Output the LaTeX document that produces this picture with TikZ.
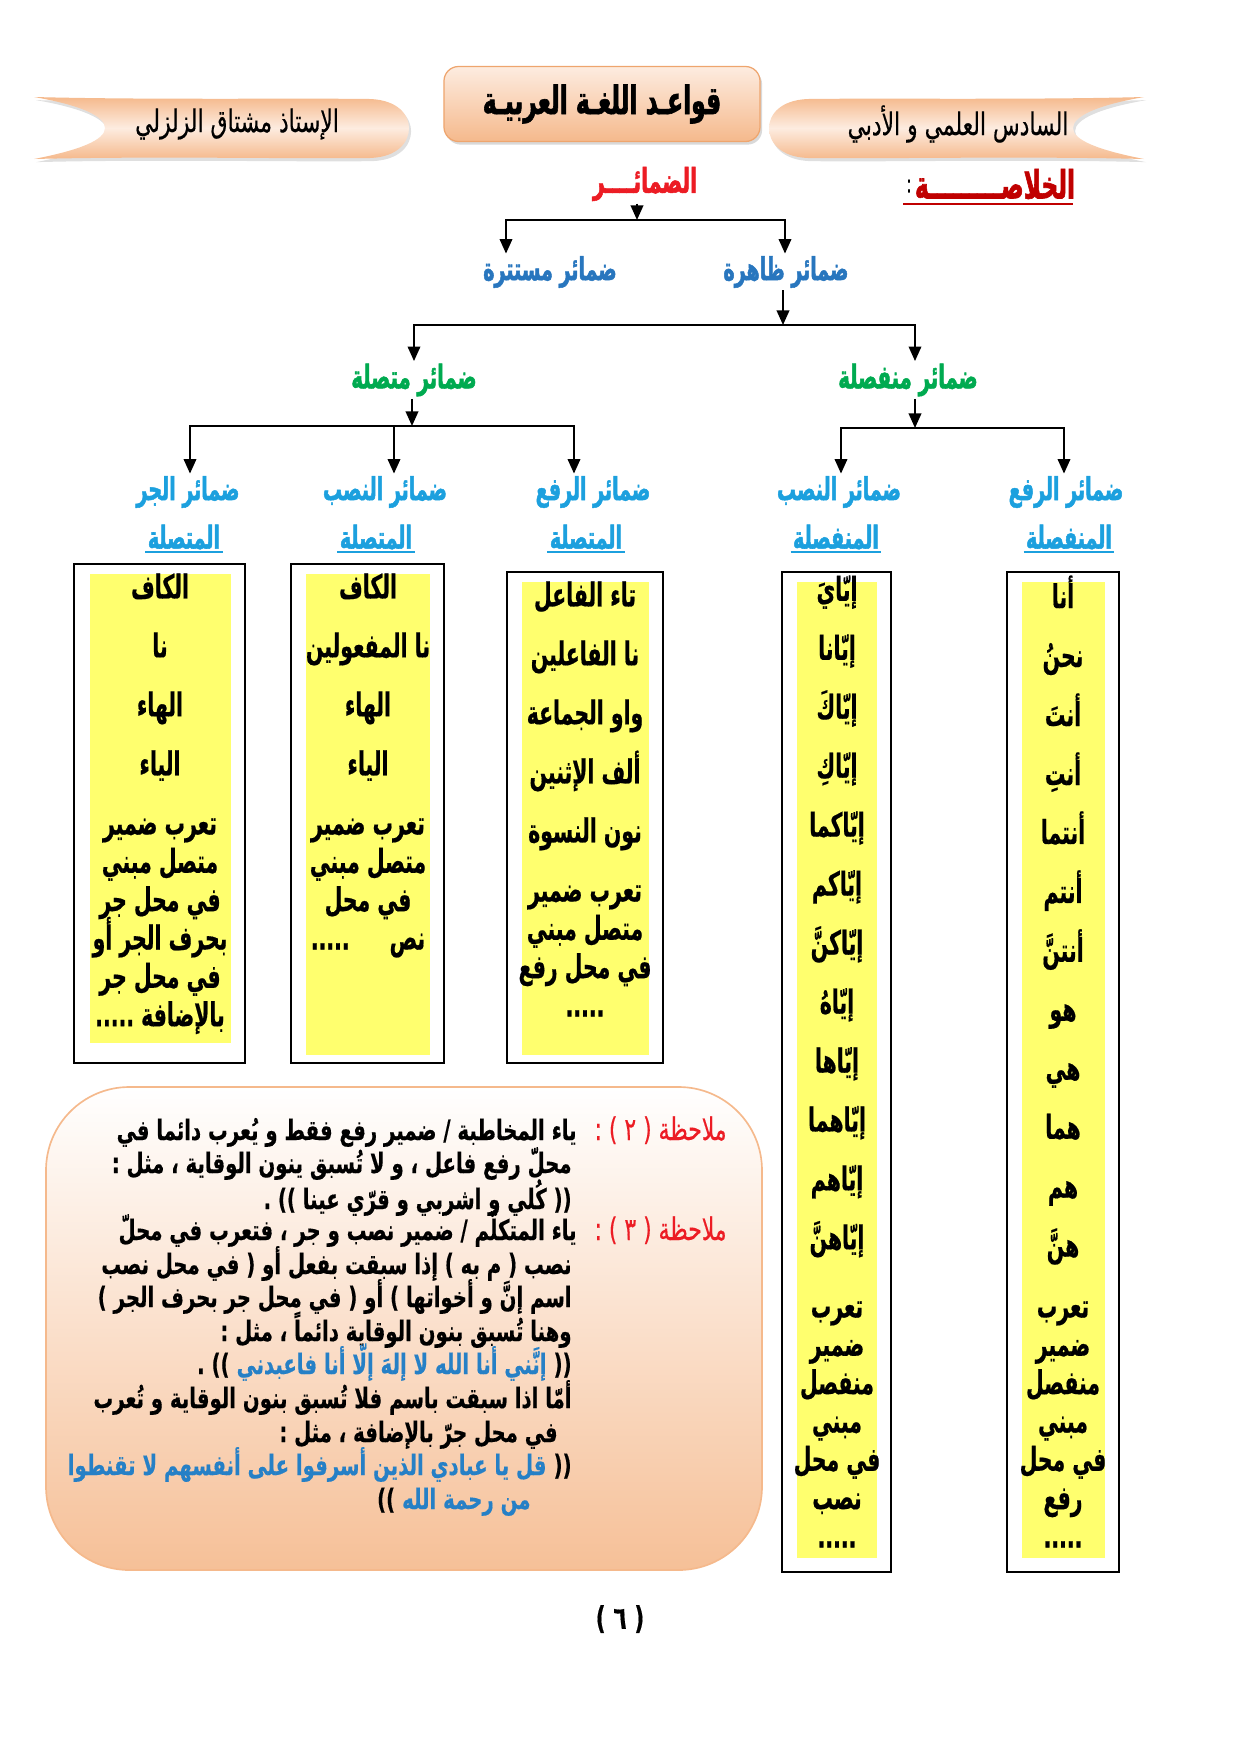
\documentclass[tikz,border=0pt]{standalone}
\usepackage{fontspec}
\usetikzlibrary{arrows.meta,positioning,shadows}
\TeXXeTstate=1
\newfontfamily\arabicfont[Script=Arabic, FakeStretch=0.7, FakeBold=0.4]{DejaVu Sans}
\newfontfamily\colfont[Script=Arabic, FakeStretch=0.62, FakeBold=0.5]{DejaVu Sans}
\newfontfamily\heavyfont[Script=Arabic, FakeStretch=0.6, FakeBold=1.5]{DejaVu Sans}
\definecolor{qpeachd}{RGB}{245,185,140}
\definecolor{qpeachl}{RGB}{253,236,224}
\definecolor{qpeachb}{RGB}{238,165,110}
\definecolor{qred}{RGB}{236,28,36}
\definecolor{qdred}{RGB}{192,0,0}
\definecolor{qblue}{RGB}{40,118,190}
\definecolor{qcyan}{RGB}{28,160,222}
\definecolor{qgreen}{RGB}{0,170,80}
\definecolor{qyellow}{RGB}{255,255,110}
\definecolor{qquote}{RGB}{38,128,198}
\newcommand{\artxt}[1]{\beginR #1\endR}
\newcommand{\tightlines}{\lineskiplimit=-20pt\relax}

\begin{document}
\begin{tikzpicture}[x=0.48pt, y=-0.48pt,
    ban/.style={top color=qpeachd, bottom color=qpeachd, middle color=qpeachl,
                drop shadow={shadow xshift=1pt, shadow yshift=-1.5pt, opacity=0.25}},
    titlebox/.style={rounded corners=7pt, top color=qpeachl, bottom color=qpeachd, draw=qpeachb,
                line width=0.6pt, minimum width=151.7pt, minimum height=36pt,
                drop shadow={shadow xshift=1pt, shadow yshift=-1.5pt, opacity=0.3},
                font=\heavyfont\bfseries\fontsize{18.7}{22}\selectfont},
    banlbl/.style={font=\arabicfont\fontsize{15}{18}\selectfont, inner sep=1pt},
    hred/.style={font=\heavyfont\bfseries\fontsize{16.3}{19}\selectfont, text=qred, inner sep=1pt},
    blbl/.style={font=\heavyfont\bfseries\fontsize{15.2}{18}\selectfont, text=qblue, inner sep=1pt},
    glbl/.style={font=\heavyfont\bfseries\fontsize{15.7}{18}\selectfont, text=qgreen, inner sep=1pt},
    clbl/.style={font=\heavyfont\bfseries\fontsize{15.2}{18}\selectfont, text=qcyan, inner sep=1pt},
    col/.style={font=\colfont\bfseries\fontsize{15.8}{18.4}\selectfont\tightlines,
                align=center, inner sep=0pt, anchor=north},
    note/.style={font=\arabicfont\bfseries\fontsize{13.5}{16}\selectfont, inner sep=0pt,
                anchor=base east},
    notered/.style={note, font=\arabicfont\fontsize{15}{17}\selectfont, text=qred},
    conn/.style={line width=1pt},
    arr/.style={conn, -{Triangle[length=7pt,width=6pt]}},
    frame/.style={draw, line width=1.2pt},
    strip/.style={fill=qyellow},
    uln/.style={qcyan, line width=0.8pt}
]
\useasboundingbox (0,0) rectangle (1240,1754);

% header
\shade[ban] (34,97) .. controls (150,100) and (300,98) .. (370,99)
    .. controls (398,100) and (409,115) .. (409,128)
    .. controls (409,142) and (398,157) .. (370,158)
    .. controls (300,159) and (150,156) .. (34,159)
    .. controls (80,150) and (105,140) .. (105,128)
    .. controls (105,116) and (80,105) .. (34,97) -- cycle;
\shade[ban] (1144,97) .. controls (1028,100) and (878,98) .. (808,99)
    .. controls (780,100) and (769,115) .. (769,128)
    .. controls (769,142) and (780,157) .. (808,158)
    .. controls (878,159) and (1028,156) .. (1144,159)
    .. controls (1098,150) and (1073,140) .. (1073,128)
    .. controls (1073,116) and (1098,105) .. (1144,97) -- cycle;
\node[banlbl] (teacher) at (237,124) {\artxt{الإستاذ مشتاق الزلزلي}};
\node[banlbl] (grade) at (958,124) {\artxt{السادس العلمي و الأدبي}};
\node[titlebox] (title) at (602,104) {\artxt{قواعـد اللغـة العربيـة}};

% summary heading
\node[hred, text=qdred, font=\heavyfont\bfseries\fontsize{18.7}{22}\selectfont] (khulasa) at (995,184) {\artxt{الخلاصـــــــــة}};
\node[font=\arabicfont\fontsize{12}{15}\selectfont, inner sep=1pt] (colon) at (909,186) {:};
\draw[qdred, line width=0.8pt] (903,204) -- (1073,204);

% tree
\node[hred] (dhamair) at (645,184) {\artxt{الضمائــــر}};
\node[blbl] (zahira) at (786,272) {\artxt{ضمائر ظاهرة}};
\node[blbl] (mustatira) at (550,272) {\artxt{ضمائر مستترة}};
\node[glbl] (munfasila) at (908,380) {\artxt{ضمائر منفصلة}};
\node[glbl] (muttasila) at (414,380) {\artxt{ضمائر متصلة}};

\node[clbl] (rafm) at (1066,492) {\artxt{ضمائر الرفع}};
\node[clbl] (nasbm) at (839,492) {\artxt{ضمائر النصب}};
\node[clbl] (rafc) at (593,492) {\artxt{ضمائر الرفع}};
\node[clbl] (nasbc) at (385,492) {\artxt{ضمائر النصب}};
\node[clbl] (jarr) at (188,492) {\artxt{ضمائر الجر}};
\node[clbl] (rafm2) at (1069,537) {\artxt{المنفصلة}};
\node[clbl] (nasbm2) at (836,537) {\artxt{المنفصلة}};
\node[clbl] (rafc2) at (586,537) {\artxt{المتصلة}};
\node[clbl] (nasbc2) at (376,537) {\artxt{المتصلة}};
\node[clbl] (jarr2) at (184,537) {\artxt{المتصلة}};
\foreach \n in {rafm2,nasbm2,rafc2,nasbc2,jarr2}
    \draw[uln] (\n.south west) -- (\n.south east);

\coordinate (j1) at (637,220);
\coordinate (j1l) at (506,220);
\coordinate (j1r) at (785,220);
\draw[arr] (j1 |- dhamair.south) -- (j1);
\draw[arr] (j1) -- (j1l) -- (j1l |- mustatira.north);
\draw[arr] (j1) -- (j1r) -- (j1r |- zahira.north);

\coordinate (j2) at (783,325);
\coordinate (j2l) at (414,325);
\coordinate (j2r) at (915,325);
\draw[arr] (j2 |- zahira.south) -- (j2);
\draw[arr] (j2) -- (j2l) -- (j2l |- muttasila.north);
\draw[arr] (j2) -- (j2r) -- (j2r |- munfasila.north);

\coordinate (j3) at (412,426);
\coordinate (j3l) at (190,426);
\coordinate (j3m) at (394,426);
\coordinate (j3r) at (574,426);
\draw[arr] (j3 |- muttasila.south) -- (j3);
\draw[arr] (j3) -- (j3l) -- (j3l |- jarr.north);
\draw[arr] (j3) -- (j3r) -- (j3r |- rafc.north);
\draw[arr] (j3m) -- (j3m |- nasbc.north);

\coordinate (j4) at (915,428);
\coordinate (j4l) at (841,428);
\coordinate (j4r) at (1064,428);
\draw[arr] (j4 |- munfasila.south) -- (j4);
\draw[arr] (j4) -- (j4l) -- (j4l |- nasbm.north);
\draw[arr] (j4) -- (j4r) -- (j4r |- rafm.north);

% columns
\draw[frame] (74,564) rectangle (245,1063);
\fill[strip] (90,574) rectangle (231,1043);
\draw[frame] (291,564) rectangle (444,1063);
\fill[strip] (306,574) rectangle (430,1055);
\draw[frame] (507,572) rectangle (663,1063);
\fill[strip] (522,582) rectangle (649,1055);
\draw[frame] (782,572) rectangle (891,1572);
\fill[strip] (797,582) rectangle (877,1558);
\draw[frame] (1007,572) rectangle (1119,1572);
\fill[strip] (1022,582) rectangle (1105,1558);

\node[col] (c5a) at (1063,575) {\artxt{أنا}\\[9.9pt]\artxt{نحنُ}\\[9.9pt]\artxt{أنتَ}\\[9.9pt]\artxt{أنتِ}\\[9.9pt]\artxt{أنتما}\\[9.9pt]\artxt{أنتم}\\[9.9pt]\artxt{أنتنَّ}\\[9.9pt]\artxt{هو}\\[9.9pt]\artxt{هي}\\[9.9pt]\artxt{هما}\\[9.9pt]\artxt{هم}\\[9.9pt]\artxt{هنَّ}};
\node[col] (c5b) at (1063,1301) {\artxt{تعرب}\\\artxt{ضمير}\\\artxt{منفصل}\\\artxt{مبني}\\\artxt{في محل}\\\artxt{رفع}\\\artxt{.....}};
\node[col] (c4a) at (837,575) {\artxt{إيّايَ}\\[9.9pt]\artxt{إيّانا}\\[9.9pt]\artxt{إيّاكَ}\\[9.9pt]\artxt{إيّاكِ}\\[9.9pt]\artxt{إيّاكما}\\[9.9pt]\artxt{إيّاكم}\\[9.9pt]\artxt{إيّاكنَّ}\\[9.9pt]\artxt{إيّاهُ}\\[9.9pt]\artxt{إيّاها}\\[9.9pt]\artxt{إيّاهما}\\[9.9pt]\artxt{إيّاهم}\\[9.9pt]\artxt{إيّاهنَّ}};
\node[col] (c4b) at (837,1301) {\artxt{تعرب}\\\artxt{ضمير}\\\artxt{منفصل}\\\artxt{مبني}\\\artxt{في محل}\\\artxt{نصب}\\\artxt{.....}};
\node[col] (c3a) at (585,581) {\artxt{تاء الفاعل}\\[9.9pt]\artxt{نا الفاعلين}\\[9.9pt]\artxt{واو الجماعة}\\[9.9pt]\artxt{ألف الإثنين}\\[9.9pt]\artxt{نون النسوة}};
\node[col] (c3b) at (585,885) {\artxt{تعرب ضمير}\\\artxt{متصل مبني}\\\artxt{في محل رفع}\\\artxt{.....}};
\node[col] (c2a) at (368,573) {\artxt{الكاف}\\[9.9pt]\artxt{نا المفعولين}\\[9.9pt]\artxt{الهاء}\\[9.9pt]\artxt{الياء}};
\node[col] (c2b) at (368,818) {\artxt{تعرب ضمير}\\\artxt{متصل مبني}\\\artxt{في محل}\\\artxt{نص \quad .....}};
\node[col] (c1a) at (160,573) {\artxt{الكاف}\\[9.9pt]\artxt{نا}\\[9.9pt]\artxt{الهاء}\\[9.9pt]\artxt{الياء}};
\node[col] (c1b) at (160,818) {\artxt{تعرب ضمير}\\\artxt{متصل مبني}\\\artxt{في محل جر}\\\artxt{بحرف الجر أو}\\\artxt{في محل جر}\\\artxt{بالإضافة .....}};

% notes
\shade[top color=white, bottom color=qpeachd!90, draw=qpeachd, line width=0.8pt,
       rounded corners=40pt] (46,1087) rectangle (762,1570);
\node[notered] (m2) at (727,1140) {\artxt{ملاحظة ( ٢ ) :}};
\node[note] (m2a) at (577,1140) {\artxt{ياء المخاطبة / ضمير رفع فقط و يُعرب دائما في}};
\node[note] (m2b) at (572,1173) {\artxt{محلّ رفع فاعل ، و لا تُسبق ينون الوقاية ، مثل :}};
\node[note] (m2c) at (572,1209) {\artxt{(( كُلي و اشربي و قرّي عينا )) .}};
\node[notered] (m3) at (727,1240) {\artxt{ملاحظة ( ٣ ) :}};
\node[note] (m3a) at (577,1240) {\artxt{ياء المتكلّم / ضمير نصب و جر ، فتعرب في محلّ}};
\node[note] (m3b) at (572,1274) {\artxt{نصب ( م به ) إذا سبقت بفعل أو ( في محل نصب}};
\node[note] (m3c) at (572,1307) {\artxt{اسم إنَّ و أخواتها ) أو ( في محل جر بحرف الجر )}};
\node[note] (m3d) at (572,1341) {\artxt{وهنا تُسبق بنون الوقاية دائماً ، مثل :}};
\node[note] (m3e) at (572,1374) {\artxt{((}};
\node[note, text=qquote] (m3f) at ([xshift=-3pt]m3e.base west) {\artxt{إنَّني أنا الله لا إلهَ إلّا أنا فاعبدني}};
\node[note] (m3g) at ([xshift=-3pt]m3f.base west) {\artxt{)) .}};
\node[note] (m3h) at (572,1408) {\artxt{أمّا اذا سبقت باسم فلا تُسبق بنون الوقاية و تُعرب}};
\node[note] (m3i) at (558,1442) {\artxt{في محل جرّ بالإضافة ، مثل :}};
\node[note] (m3j) at (572,1475) {\artxt{((}};
\node[note, text=qquote] (m3k) at ([xshift=-3pt]m3j.base west) {\artxt{قل يا عبادي الذين أسرفوا على أنفسهم لا تقنطوا}};
\node[note, text=qquote] (m3l) at (531,1509) {\artxt{من رحمة الله}};
\node[note] (m3m) at ([xshift=-3pt]m3l.base west) {\artxt{))}};

% page number
\node[font=\arabicfont\bfseries\fontsize{15}{18}\selectfont] (page) at (620,1619) {\artxt{( ٦ )}};

\end{tikzpicture}
\end{document}
